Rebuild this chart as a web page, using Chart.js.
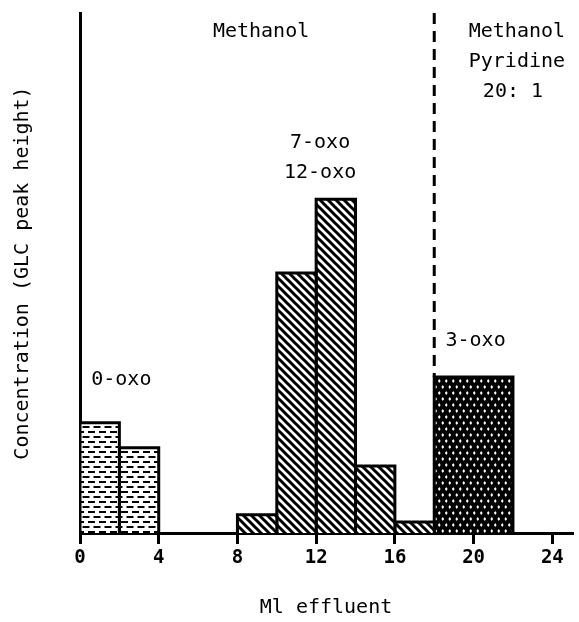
<!DOCTYPE html>
<html>
<head>
<meta charset="utf-8">
<script src="https://cdn.jsdelivr.net/npm/chart.js@4/dist/chart.umd.min.js"></script>
<style>
  html, body { margin: 0; padding: 0; background: #fff; }
  canvas { display: block; }
</style>
</head>
<body>
<canvas id="chart" width="579" height="622"></canvas>
<script>
// histogram bins (ml effluent) and GLC peak heights
var binStart = [0, 2, 8, 10, 12, 14, 16, 18];
var binEnd = [2, 4, 10, 12, 14, 16, 18, 22];
var peakHeight = [21.2, 16.4, 3.5, 50.0, 64.2, 12.9, 2.1, 30.0];
var fraction = ['0-oxo', '0-oxo', '7/12-oxo', '7/12-oxo', '7/12-oxo', '7/12-oxo', '7/12-oxo', '3-oxo'];
var xTicks = [0, 4, 8, 12, 16, 20, 24];
var solventChange = 18;

// text written inside the plot, in data coordinates
var notes = [
  { text: 'Methanol', x: 9.2, y: 96.3 },
  { text: 'Methanol', x: 22.2, y: 96.3 },
  { text: 'Pyridine', x: 22.2, y: 90.6 },
  { text: '20: 1', x: 22.0, y: 84.8 },
  { text: '7-oxo', x: 12.2, y: 75.0 },
  { text: '12-oxo', x: 12.2, y: 69.3 },
  { text: '0-oxo', x: 2.1, y: 29.4 },
  { text: '3-oxo', x: 20.1, y: 37.0 }
];

var FONT = '"DejaVu Sans Mono", "Liberation Mono", monospace';

function makePattern(w, h, draw) {
  var c = document.createElement('canvas');
  c.width = w; c.height = h;
  var g = c.getContext('2d');
  draw(g, w, h);
  return g.createPattern(c, 'repeat');
}

var dashes = makePattern(11, 10, function (g, w, h) {
  g.fillStyle = '#fff'; g.fillRect(0, 0, w, h);
  g.fillStyle = '#000';
  g.fillRect(0, 1, 7, 2);
  g.fillRect(5.5, 6, 7, 2);
  g.fillRect(-5.5, 6, 7, 2);
});

var hatch = makePattern(8, 8, function (g, w, h) {
  g.fillStyle = '#fff'; g.fillRect(0, 0, w, h);
  g.strokeStyle = '#000'; g.lineWidth = 3;
  g.beginPath();
  g.moveTo(-8, 0); g.lineTo(8, 16);
  g.moveTo(0, 0); g.lineTo(8, 8);
  g.moveTo(0, -8); g.lineTo(16, 8);
  g.moveTo(-8, -8); g.lineTo(8, 8);
  g.stroke();
});

var dots = makePattern(7, 12, function (g, w, h) {
  g.fillStyle = '#000'; g.fillRect(0, 0, w, h);
  g.fillStyle = '#fff';
  function diamond(x, y) {
    g.beginPath();
    g.moveTo(x, y - 2); g.lineTo(x + 1.4, y); g.lineTo(x, y + 2); g.lineTo(x - 1.4, y);
    g.closePath(); g.fill();
  }
  diamond(1.75, 3);
  diamond(5.25, 9);
});

var fills = { '0-oxo': dashes, '7/12-oxo': hatch, '3-oxo': dots };

var datasets = binStart.map(function (a, i) {
  var b = binEnd[i], h = peakHeight[i];
  return {
    data: [{ x: a, y: 0 }, { x: a, y: h }, { x: b, y: h }, { x: b, y: 0 }],
    borderColor: '#000',
    borderWidth: 3,
    backgroundColor: fills[fraction[i]],
    fill: 'origin',
    pointRadius: 0,
    tension: 0,
    borderJoinStyle: 'miter'
  };
});

// dashed line marking the change of eluting solvent
datasets.push({
  data: [{ x: solventChange, y: 100 }, { x: solventChange, y: peakHeight[binStart.indexOf(solventChange)] }],
  borderColor: '#000',
  borderWidth: 3,
  borderDash: [11, 7],
  fill: false,
  pointRadius: 0
});

var notesPlugin = {
  id: 'notes',
  afterDraw: function (chart) {
    var ctx = chart.ctx, sx = chart.scales.x, sy = chart.scales.y;
    ctx.save();
    ctx.fillStyle = '#000';
    ctx.font = '20px ' + FONT;
    ctx.textAlign = 'center';
    ctx.textBaseline = 'middle';
    notes.forEach(function (n) {
      ctx.fillText(n.text, sx.getPixelForValue(n.x), sy.getPixelForValue(n.y));
    });
    ctx.restore();
  }
};

new Chart(document.getElementById('chart'), {
  type: 'line',
  data: { datasets: datasets },
  plugins: [notesPlugin],
  options: {
    responsive: false,
    animation: false,
    layout: { padding: { top: 13, right: 7, left: 0, bottom: 0 } },
    plugins: { legend: { display: false }, tooltip: { enabled: false } },
    scales: {
      x: {
        type: 'linear',
        min: 0,
        max: 25,
        afterFit: function (s) { s.height = 89; },
        afterBuildTicks: function (s) { s.ticks = xTicks.map(function (v) { return { value: v }; }); },
        ticks: { color: '#000', font: { family: FONT, size: 19, weight: 'bold' }, padding: 3, maxRotation: 0 },
        grid: { drawOnChartArea: false, drawTicks: true, tickLength: 11, color: '#000', lineWidth: 3 },
        border: { display: true, color: '#000', width: 3 },
        title: { display: true, text: 'Ml effluent', color: '#000', font: { family: FONT, size: 20 }, padding: { top: 0, bottom: 2 } }
      },
      y: {
        min: 0,
        max: 100,
        afterFit: function (s) { s.width = 80; },
        ticks: { display: false },
        grid: { display: false },
        border: { display: true, color: '#000', width: 3 },
        title: { display: true, text: 'Concentration (GLC peak height)', color: '#000', font: { family: FONT, size: 20 }, padding: { top: 11, bottom: 0 } }
      }
    }
  }
});
</script>
</body>
</html>
